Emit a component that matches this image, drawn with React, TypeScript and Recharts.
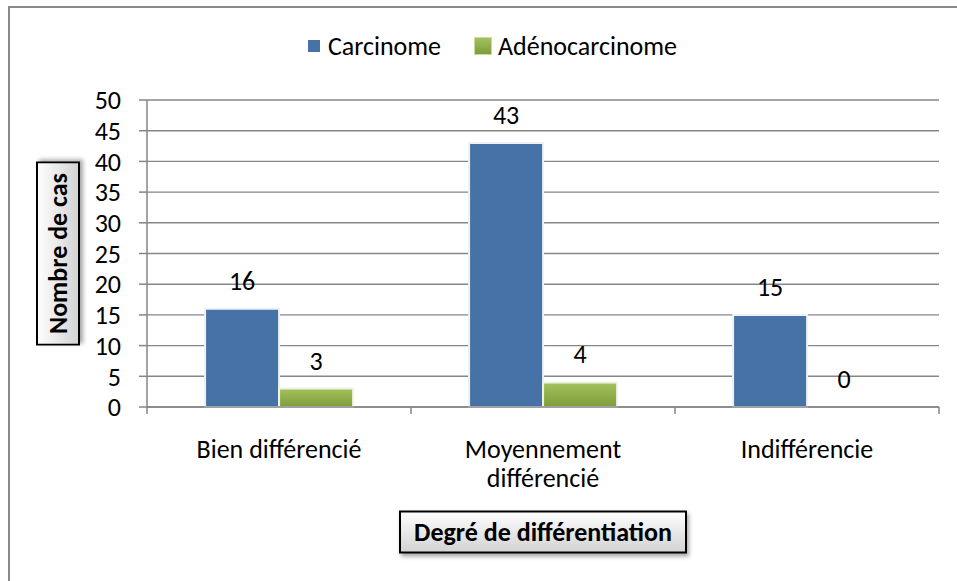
import React from "react";
import { BarChart, Bar, XAxis, YAxis, CartesianGrid, Legend, LabelList, Cell } from "recharts";

// values
const categories = ["Bien différencié", "Moyennement différencié", "Indifférencie"];
const carcinome = [16, 43, 15];
const adenocarcinome = [3, 4, 0];
const seriesNames = ["Carcinome", "Adénocarcinome"];
const yTicks = [0, 5, 10, 15, 20, 25, 30, 35, 40, 45, 50];
const xTitle = "Degré de différentiation";
const yTitle = "Nombre de cas";

const data = categories.map((name, i) => ({
  name,
  carcinome: carcinome[i],
  adeno: adenocarcinome[i],
}));

const W = 957;
const H = 581;
const FONT = "Carlito, Lato, 'Liberation Sans', sans-serif";
const FS = 26;
const GRID = "#868686";
const BLUE = "#4672A7";
const PLOT_LEFT = 147;
const PLOT_RIGHT = 939;
const BAND_HALF = (PLOT_RIGHT - PLOT_LEFT) / categories.length / 2;

function CategoryTick({ x, y, payload, index }: any) {
  const label = String(payload.value);
  const words = label.split(" ");
  const lines = label.length > 18 ? [words.slice(0, -1).join(" "), words[words.length - 1]] : [label];
  return (
    <g>
      <line x1={x - BAND_HALF} x2={x - BAND_HALF} y1={y} y2={y + 7} stroke={GRID} strokeWidth={1.5} />
      {index === categories.length - 1 && (
        <line x1={x + BAND_HALF} x2={x + BAND_HALF} y1={y} y2={y + 7} stroke={GRID} strokeWidth={1.5} />
      )}
      <text x={x} y={y + 51} textAnchor="middle" fontSize={FS} fill="#000" fontFamily={FONT}>
        {lines.map((l, i) => (
          <tspan key={i} x={x} dy={i === 0 ? 0 : 29}>{l}</tspan>
        ))}
      </text>
    </g>
  );
}

function TitleBox({ cx, cy, w, h, text, vertical }: { cx: number; cy: number; w: number; h: number; text: string; vertical?: boolean }) {
  return (
    <g transform={`translate(${cx},${cy})${vertical ? " rotate(-90)" : ""}`}>
      <rect
        x={-w / 2}
        y={-h / 2}
        width={w}
        height={h}
        fill="url(#titleGrad)"
        stroke="#000"
        strokeWidth={2}
        filter="url(#titleShadow)"
      />
      <text x={0} y={9} textAnchor="middle" fontSize={26} fontWeight="bold" fill="#000" fontFamily={FONT}>
        {text}
      </text>
    </g>
  );
}

function LegendContent({ payload }: any) {
  const items = [...(payload || [])].sort(
    (a: any, b: any) => seriesNames.indexOf(a.value) - seriesNames.indexOf(b.value)
  );
  return (
    <div style={{ display: "flex", alignItems: "center", fontFamily: FONT, fontSize: FS, color: "#000", lineHeight: "28px" }}>
      {items.map((p: any, i: number) => (
        <div key={p.value} style={{ display: "flex", alignItems: "center", marginRight: 33 }}>
          <span
            style={{
              display: "inline-block",
              width: i === 0 ? 12 : 16,
              height: i === 0 ? 12 : 16,
              background: i === 0 ? BLUE : "linear-gradient(#a3c25c, #7e9c3b)",
              border: i === 0 ? "none" : "1px solid #c9dca0",
              marginRight: i === 0 ? 8 : 6,
            }}
          />
          <span>{p.value}</span>
        </div>
      ))}
    </div>
  );
}

export default function App() {
  return (
    <div style={{ position: "absolute", left: 0, top: 0, width: W, height: H, background: "#fff", overflow: "hidden" }}>
      <div
        style={{
          position: "absolute",
          left: 8,
          top: 6,
          width: 2000,
          height: 2000,
          border: "2px solid #8a8a8a",
        }}
      />
      <div style={{ position: "absolute", left: 0, top: 0 }}>
        <BarChart
          width={W}
          height={H}
          data={data}
          margin={{ top: 100, right: W - PLOT_RIGHT, bottom: 0, left: 0 }}
          barCategoryGap="22%"
          barGap={0}
        >
          <defs>
            <linearGradient id="greenGrad" x1="0" y1="0" x2="0" y2="1">
              <stop offset="0%" stopColor="#a3c25c" />
              <stop offset="100%" stopColor="#7e9c3b" />
            </linearGradient>
            <linearGradient id="titleGrad" x1="0" y1="0" x2="0" y2="1">
              <stop offset="0%" stopColor="#ffffff" />
              <stop offset="100%" stopColor="#d2d2d2" />
            </linearGradient>
            <filter id="titleShadow" x="-20%" y="-40%" width="140%" height="180%">
              <feDropShadow dx={2} dy={3} stdDeviation={2} floodColor="#000" floodOpacity={0.35} />
            </filter>
          </defs>
          <CartesianGrid vertical={false} stroke={GRID} strokeWidth={1.4} />
          <Legend
            verticalAlign="middle"
            layout="horizontal"
            content={<LegendContent />}
            wrapperStyle={{ left: 308, top: 32, width: 600 }}
          />
          <XAxis
            dataKey="name"
            interval={0}
            height={H - 407}
            tickSize={0}
            tickMargin={0}
            tickLine={false}
            axisLine={{ stroke: GRID, strokeWidth: 1.5 }}
            tick={<CategoryTick />}
            label={{
              content: ({ viewBox }: any) => (
                <TitleBox cx={viewBox.x + viewBox.width / 2} cy={viewBox.y + 125} w={286} h={41} text={xTitle} />
              ),
            }}
          />
          <YAxis
            domain={[0, 50]}
            ticks={yTicks}
            interval={0}
            width={PLOT_LEFT}
            tickSize={8}
            tickMargin={18}
            axisLine={{ stroke: GRID, strokeWidth: 1.5 }}
            tickLine={{ stroke: GRID, strokeWidth: 1.5 }}
            tick={{ fontSize: FS, fill: "#000", fontFamily: FONT }}
            label={{
              content: ({ viewBox }: any) => (
                <TitleBox cx={viewBox.x + 58} cy={viewBox.y + viewBox.height / 2} w={182} h={42} text={yTitle} vertical />
              ),
            }}
          />
          <Bar dataKey="carcinome" name={seriesNames[0]} fill={BLUE} stroke="#eef1f5" strokeWidth={2} isAnimationActive={false}>
            <LabelList dataKey="carcinome" position="top" offset={19} fill="#000" fontSize={FS} fontFamily={FONT} />
          </Bar>
          <Bar
            dataKey="adeno"
            name={seriesNames[1]}
            fill="url(#greenGrad)"
            stroke="#eef3e4"
            strokeWidth={2}
            minPointSize={0.01}
            isAnimationActive={false}
          >
            {adenocarcinome.map((v, i) => (
              <Cell key={i} stroke={v === 0 ? "none" : "#eef3e4"} />
            ))}
            <LabelList dataKey="adeno" position="top" offset={19} fill="#000" fontSize={FS} fontFamily={FONT} />
          </Bar>
        </BarChart>
      </div>
    </div>
  );
}
